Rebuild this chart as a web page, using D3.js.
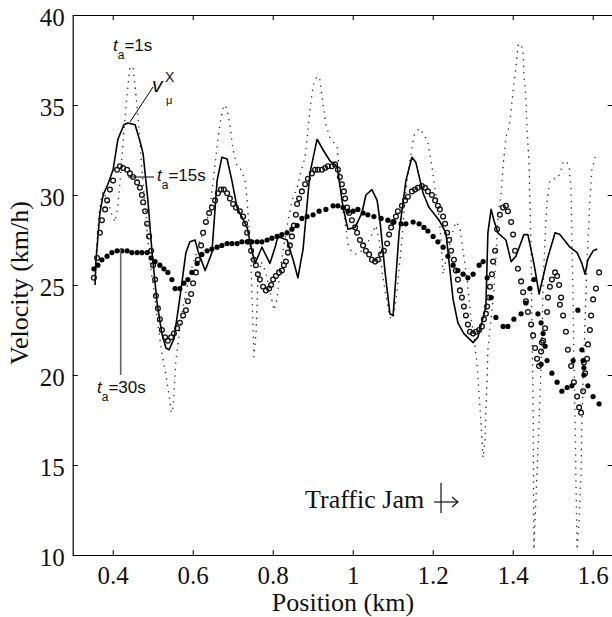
<!DOCTYPE html>
<html><head><meta charset="utf-8">
<script src="https://cdn.jsdelivr.net/npm/d3@7"></script>
<style>body{margin:0;background:#fff}</style>
</head><body>
<svg id="c" width="612" height="617"></svg>
<script>
// ---- data (position km, velocity km/h) ----
const xTicks = [0.4, 0.6, 0.8, 1, 1.2, 1.4, 1.6];
const yTicks = [10, 15, 20, 25, 30, 35, 40];
const xLabel = "Position (km)";
const yLabel = "Velocity (km/h)";

// v_mu^x : solid line
const vmuX = [[0.356,25.0],[0.358,26.3],[0.368,29.0],[0.376,30.0],[0.388,30.6],[0.401,31.4],[0.413,33.1],[0.428,33.9],[0.438,34.0],[0.456,33.9],[0.468,33.0],[0.476,32.3],[0.488,29.7],[0.498,26.9],[0.511,24.0],[0.523,22.3],[0.533,21.5],[0.541,21.4],[0.553,22.0],[0.568,24.3],[0.583,26.8],[0.593,27.4],[0.606,27.5],[0.613,26.9],[0.631,25.8],[0.648,26.8],[0.661,30.8],[0.673,32.1],[0.686,32.0],[0.698,30.8],[0.711,29.3],[0.736,28.2],[0.748,26.9],[0.756,26.2],[0.773,27.1],[0.793,26.2],[0.806,27.1],[0.813,27.7],[0.836,27.5],[0.851,26.4],[0.863,25.4],[0.876,27.0],[0.893,31.2],[0.911,33.1],[0.926,32.5],[0.943,31.9],[0.961,31.6],[0.976,29.3],[0.988,28.1],[1.006,28.2],[1.023,29.0],[1.033,30.0],[1.048,30.3],[1.061,29.7],[1.068,28.6],[1.081,25.7],[1.093,23.4],[1.101,23.3],[1.116,27.9],[1.133,30.8],[1.148,32.1],[1.158,31.8],[1.176,30.1],[1.191,29.3],[1.216,28.6],[1.233,27.9],[1.251,24.2],[1.263,22.9],[1.278,22.3],[1.301,21.8],[1.313,22.1],[1.333,23.8],[1.338,27.9],[1.346,29.2],[1.353,28.6],[1.363,27.9],[1.383,27.5],[1.396,26.3],[1.408,26.6],[1.428,27.8],[1.438,27.8],[1.453,26.2],[1.466,24.5],[1.486,26.4],[1.506,27.9],[1.518,27.8],[1.543,27.1],[1.561,26.8],[1.573,26.2],[1.581,25.6],[1.588,26.4],[1.601,26.9],[1.611,27.0]];

// t_a = 1s : dotted
const ta1 = [[0.356,25.8],[0.361,27.5],[0.366,29.0],[0.371,29.7],[0.376,30.2],[0.383,29.9],[0.391,29.4],[0.398,28.9],[0.406,28.5],[0.413,29.4],[0.421,31.4],[0.428,33.6],[0.436,35.6],[0.443,37.1],[0.451,37.1],[0.458,35.6],[0.466,33.6],[0.473,31.4],[0.481,29.4],[0.488,27.5],[0.496,25.8],[0.506,24.2],[0.513,22.8],[0.523,21.2],[0.533,20.0],[0.541,18.9],[0.546,17.9],[0.551,18.2],[0.553,18.9],[0.556,20.0],[0.558,20.8],[0.563,21.7],[0.571,23.1],[0.581,24.4],[0.593,25.6],[0.608,26.7],[0.618,27.5],[0.631,28.1],[0.643,29.3],[0.653,31.1],[0.663,33.1],[0.671,34.3],[0.678,35.0],[0.686,34.8],[0.693,33.9],[0.701,32.5],[0.711,31.6],[0.721,31.4],[0.731,30.8],[0.736,29.7],[0.741,28.1],[0.746,26.1],[0.748,24.4],[0.751,22.5],[0.753,21.0],[0.758,22.2],[0.761,23.9],[0.763,25.3],[0.771,26.3],[0.781,25.8],[0.793,24.7],[0.803,23.6],[0.811,24.2],[0.818,25.8],[0.828,27.2],[0.838,28.5],[0.848,29.7],[0.861,30.4],[0.871,31.3],[0.881,32.1],[0.888,33.6],[0.893,34.7],[0.901,36.1],[0.911,36.6],[0.918,36.4],[0.926,35.0],[0.933,33.9],[0.943,33.2],[0.953,32.9],[0.961,32.7],[0.968,30.8],[0.973,29.4],[0.981,28.5],[0.988,27.3],[0.998,26.8],[1.011,26.7],[1.023,26.9],[1.036,27.3],[1.048,27.8],[1.058,28.3],[1.066,27.5],[1.073,25.8],[1.083,24.4],[1.093,23.2],[1.101,23.1],[1.111,24.7],[1.123,27.5],[1.133,30.3],[1.143,31.9],[1.153,33.3],[1.166,33.7],[1.178,33.4],[1.188,32.9],[1.198,31.6],[1.206,30.3],[1.213,29.4],[1.221,27.5],[1.226,25.6],[1.236,26.7],[1.248,27.8],[1.258,28.5],[1.268,28.2],[1.276,26.9],[1.286,25.3],[1.296,23.1],[1.303,22.2],[1.311,20.6],[1.318,18.3],[1.326,15.4],[1.331,16.4],[1.333,18.1],[1.336,19.7],[1.338,21.4],[1.343,22.5],[1.351,24.2],[1.358,26.4],[1.363,28.8],[1.371,30.1],[1.376,31.6],[1.383,33.2],[1.391,33.8],[1.396,34.7],[1.403,36.2],[1.408,37.1],[1.413,38.3],[1.421,38.4],[1.426,37.9],[1.428,36.7],[1.433,35.3],[1.436,33.6],[1.441,31.7],[1.443,29.7],[1.446,26.9],[1.448,23.1],[1.451,18.6],[1.452,14.2],[1.453,10.3],[1.458,13.1],[1.463,15.8],[1.468,18.6],[1.473,21.9],[1.476,24.9],[1.481,27.7],[1.486,29.7],[1.493,30.8],[1.501,30.9],[1.511,30.9],[1.518,31.2],[1.526,31.8],[1.533,31.9],[1.541,31.6],[1.546,30.3],[1.548,27.5],[1.551,24.2],[1.553,20.8],[1.556,17.5],[1.558,14.2],[1.561,10.3],[1.566,11.9],[1.571,14.7],[1.573,17.5],[1.576,19.7],[1.581,23.1],[1.586,26.4],[1.593,29.7],[1.598,31.4],[1.606,32.1],[1.613,32.3]];

// t_a = 15s : open circles
const ta15 = [[0.353,25.4],[0.361,26.5],[0.368,27.9],[0.373,28.6],[0.381,29.2],[0.386,29.7],[0.393,30.3],[0.401,30.8],[0.411,31.4],[0.418,31.6],[0.426,31.5],[0.436,31.4],[0.443,31.2],[0.451,31.0],[0.461,30.7],[0.468,30.4],[0.473,30.0],[0.476,29.6],[0.481,29.1],[0.486,28.4],[0.491,27.7],[0.496,26.9],[0.501,26.1],[0.506,25.3],[0.508,24.4],[0.513,23.7],[0.518,23.1],[0.523,22.5],[0.531,22.1],[0.538,21.9],[0.546,22.1],[0.553,22.3],[0.561,22.6],[0.568,22.9],[0.576,23.3],[0.583,23.6],[0.588,24.1],[0.596,24.5],[0.601,25.1],[0.608,25.7],[0.613,26.4],[0.621,27.2],[0.626,27.9],[0.633,28.5],[0.641,29.0],[0.648,29.3],[0.656,29.7],[0.663,30.1],[0.671,30.3],[0.678,30.3],[0.686,30.1],[0.693,29.8],[0.701,29.5],[0.708,29.3],[0.718,29.1],[0.726,28.8],[0.731,28.4],[0.736,27.9],[0.741,27.4],[0.746,26.9],[0.753,26.4],[0.758,26.1],[0.763,25.6],[0.768,25.3],[0.776,24.9],[0.783,24.7],[0.791,24.8],[0.796,25.0],[0.801,25.3],[0.808,25.5],[0.816,25.7],[0.823,25.8],[0.828,26.1],[0.833,26.3],[0.838,26.8],[0.843,27.2],[0.848,27.7],[0.853,28.3],[0.858,28.9],[0.861,29.5],[0.866,29.8],[0.873,30.2],[0.881,30.6],[0.888,30.9],[0.898,31.2],[0.906,31.4],[0.913,31.4],[0.923,31.4],[0.931,31.5],[0.938,31.6],[0.948,31.6],[0.956,31.7],[0.963,31.4],[0.968,31.0],[0.973,30.6],[0.978,30.2],[0.981,29.8],[0.986,29.3],[0.991,29.0],[0.998,28.6],[1.006,28.2],[1.011,27.9],[1.018,27.5],[1.026,27.2],[1.033,26.9],[1.041,26.7],[1.048,26.4],[1.056,26.3],[1.063,26.4],[1.071,26.7],[1.078,26.9],[1.086,27.3],[1.091,27.8],[1.096,28.2],[1.101,28.5],[1.108,28.8],[1.113,29.1],[1.123,29.4],[1.131,29.7],[1.138,29.9],[1.148,30.2],[1.156,30.3],[1.163,30.4],[1.173,30.5],[1.181,30.4],[1.188,30.2],[1.198,30.0],[1.206,29.7],[1.213,29.4],[1.218,29.2],[1.226,28.8],[1.231,28.4],[1.236,27.9],[1.241,27.5],[1.246,26.9],[1.253,26.4],[1.258,25.8],[1.263,25.3],[1.268,24.7],[1.273,24.3],[1.278,23.8],[1.283,23.3],[1.288,22.8],[1.293,22.4],[1.301,22.3],[1.308,22.4],[1.316,22.5],[1.323,22.7],[1.328,23.1],[1.333,23.4],[1.336,23.8],[1.341,24.3],[1.343,24.9],[1.348,25.6],[1.351,26.3],[1.356,26.9],[1.361,28.1],[1.368,28.9],[1.376,29.3],[1.383,29.4],[1.388,29.1],[1.396,28.5],[1.401,27.8],[1.406,26.9],[1.413,25.9],[1.421,25.2],[1.426,24.6],[1.433,24.1],[1.438,23.5],[1.446,22.8],[1.451,22.2],[1.456,21.5],[1.461,20.9],[1.466,20.5],[1.471,21.3],[1.473,21.8],[1.476,21.9],[1.481,22.6],[1.486,23.5],[1.488,24.3],[1.493,24.9],[1.498,25.3],[1.506,25.7],[1.511,25.5],[1.516,25.0],[1.518,23.9],[1.521,24.3],[1.526,23.3],[1.533,22.4],[1.538,21.4],[1.546,20.5],[1.553,19.6],[1.561,18.8],[1.566,18.2],[1.571,17.9],[1.576,19.1],[1.578,20.7],[1.581,20.1],[1.586,20.9],[1.588,21.7],[1.593,22.5],[1.596,23.3],[1.601,24.2],[1.608,24.8],[1.616,25.7]];

// t_a = 30s : filled circles
const ta30 = [[0.353,25.9],[0.363,26.1],[0.373,26.4],[0.386,26.6],[0.398,26.8],[0.411,26.9],[0.423,26.9],[0.436,26.9],[0.448,26.8],[0.461,26.8],[0.473,26.8],[0.486,26.8],[0.496,26.5],[0.506,26.3],[0.518,26.1],[0.528,25.9],[0.538,25.7],[0.548,25.3],[0.556,24.8],[0.568,24.8],[0.578,25.1],[0.588,25.3],[0.598,25.7],[0.611,26.2],[0.623,26.7],[0.636,26.9],[0.648,27.0],[0.661,27.1],[0.673,27.2],[0.686,27.3],[0.698,27.3],[0.711,27.3],[0.723,27.4],[0.736,27.4],[0.748,27.4],[0.761,27.4],[0.773,27.4],[0.786,27.5],[0.798,27.6],[0.811,27.7],[0.823,27.8],[0.836,27.9],[0.848,28.1],[0.861,28.3],[0.873,28.7],[0.886,28.8],[0.901,28.9],[0.916,29.1],[0.933,29.2],[0.951,29.4],[0.963,29.4],[0.976,29.3],[0.988,29.1],[1.001,29.1],[1.013,29.2],[1.026,29.0],[1.038,28.9],[1.053,28.8],[1.071,28.7],[1.088,28.6],[1.103,28.5],[1.121,28.4],[1.133,28.4],[1.151,28.5],[1.166,28.4],[1.178,28.2],[1.188,28.0],[1.201,27.7],[1.213,27.4],[1.226,27.1],[1.238,26.6],[1.251,26.1],[1.263,25.8],[1.276,25.6],[1.288,25.4],[1.301,25.6],[1.316,26.1],[1.326,26.3],[1.336,25.4],[1.346,24.3],[1.358,23.2],[1.376,22.7],[1.388,22.7],[1.403,23.1],[1.421,23.4],[1.433,24.0],[1.443,24.8],[1.453,25.3],[1.463,23.4],[1.471,22.9],[1.476,22.3],[1.481,21.6],[1.471,20.6],[1.486,20.8],[1.498,20.1],[1.511,19.6],[1.523,19.1],[1.536,19.3],[1.548,19.4],[1.551,20.8],[1.563,23.6],[1.573,21.4],[1.576,20.8],[1.578,20.4],[1.578,20.0],[1.588,19.4],[1.601,18.8],[1.616,18.4]];

// ---- drawing ----
const L = 72.7, R = 612.7, T = 15, B = 555;
const svg = d3.select("#c");
const x = d3.scaleLinear().domain([0.3, 1.65]).range([L, R]);
const y = d3.scaleLinear().domain([10, 40]).range([B, T]);
const serif = "Liberation Serif";
const sans = "Liberation Sans";
const fmt = d3.format("~g");

// axes
const gx = svg.append("g").attr("transform", `translate(0,${B})`)
  .call(d3.axisBottom(x).tickValues(xTicks).tickFormat(fmt).tickSizeInner(-5).tickSizeOuter(0).tickPadding(11));
const gy = svg.append("g").attr("transform", `translate(${L},0)`)
  .call(d3.axisLeft(y).tickValues(yTicks).tickFormat(fmt).tickSizeInner(-5).tickSizeOuter(0).tickPadding(8));
const gt = svg.append("g").attr("transform", `translate(0,${T})`)
  .call(d3.axisTop(x).tickValues(xTicks).tickFormat("").tickSizeInner(-5).tickSizeOuter(0));
const gr = svg.append("g").attr("transform", `translate(${R},0)`)
  .call(d3.axisRight(y).tickValues(yTicks).tickFormat("").tickSizeInner(-5).tickSizeOuter(0));
[gx, gy, gt, gr].forEach(g => {
  g.attr("font-family", serif).attr("font-size", 25);
  g.select(".domain").attr("stroke", "#000").attr("stroke-width", 1.2);
  g.selectAll(".tick line").attr("stroke", "#000").attr("stroke-width", 1);
  g.selectAll(".tick text").style("font-family", serif).attr("font-size", 25).attr("fill", "#111");
});
gy.selectAll(".tick text").attr("dy", "0.42em");

// series
const line = d3.line().x(d => x(d[0])).y(d => y(d[1]));
svg.append("path").datum(ta1).attr("d", line).attr("fill", "none")
  .attr("stroke", "#333").attr("stroke-width", 1.6).attr("stroke-linecap", "round")
  .attr("stroke-dasharray", "0 6.5");
svg.append("path").datum(vmuX).attr("d", line).attr("fill", "none")
  .attr("stroke", "#000").attr("stroke-width", 1.6).attr("stroke-linejoin", "round");
svg.append("g").selectAll("circle").data(ta15).join("circle")
  .attr("cx", d => x(d[0])).attr("cy", d => y(d[1])).attr("r", 2.4)
  .attr("fill", "none").attr("stroke", "#111").attr("stroke-width", 1.3);
svg.append("g").selectAll("circle").data(ta30).join("circle")
  .attr("cx", d => x(d[0])).attr("cy", d => y(d[1])).attr("r", 2.6)
  .attr("fill", "#000");

// axis titles
svg.append("text").attr("x", 343).attr("y", 611).attr("text-anchor", "middle")
  .style("font-family", serif).attr("font-size", 26).attr("fill", "#111").text(xLabel);
svg.append("text").attr("transform", "translate(28,283) rotate(-90)").attr("text-anchor", "middle")
  .style("font-family", serif).attr("font-size", 26).attr("fill", "#111").text(yLabel);

// annotations
function taLabel(px, py, val) {
  const t = svg.append("text").attr("x", px).attr("y", py)
    .style("font-family", sans).attr("font-size", 17).attr("fill", "#111");
  t.append("tspan").attr("font-style", "italic").text("t");
  t.append("tspan").attr("font-size", 12).attr("dy", 8).text("a");
  t.append("tspan").attr("dy", -8).text("=" + val);
}
taLabel(113, 51, "1s");
taLabel(157, 181, "15s");
taLabel(97, 393, "30s");

svg.append("text").attr("x", 152).attr("y", 92).style("font-family", sans)
  .attr("font-size", 21).attr("font-style", "italic").attr("fill", "#111").text("v");
svg.append("text").attr("x", 165).attr("y", 82).style("font-family", sans)
  .attr("font-size", 14).attr("fill", "#111").text("X");
svg.append("text").attr("x", 166).attr("y", 104).style("font-family", sans)
  .attr("font-size", 11).attr("fill", "#111").text("μ");

svg.append("line").attr("x1", 130).attr("y1", 122).attr("x2", 153).attr("y2", 87)
  .attr("stroke", "#000").attr("stroke-width", 1);
svg.append("line").attr("x1", 128).attr("y1", 177).attr("x2", 154).attr("y2", 177)
  .attr("stroke", "#000").attr("stroke-width", 1);
svg.append("line").attr("x1", 120.7).attr("y1", 248).attr("x2", 120.7).attr("y2", 375)
  .attr("stroke", "#666").attr("stroke-width", 1.6);

// traffic jam note
svg.append("text").attr("x", 305).attr("y", 508).style("font-family", serif)
  .attr("font-size", 26).attr("fill", "#111").text("Traffic Jam");
const ar = svg.append("g").attr("stroke", "#111").attr("stroke-width", 1.2).attr("fill", "none");
ar.append("line").attr("x1", 441).attr("y1", 483).attr("x2", 441).attr("y2", 513);
ar.append("line").attr("x1", 434).attr("y1", 502).attr("x2", 458).attr("y2", 502);
ar.append("path").attr("d", "M452,497 L458,502 L452,507");
</script>
</body></html>
